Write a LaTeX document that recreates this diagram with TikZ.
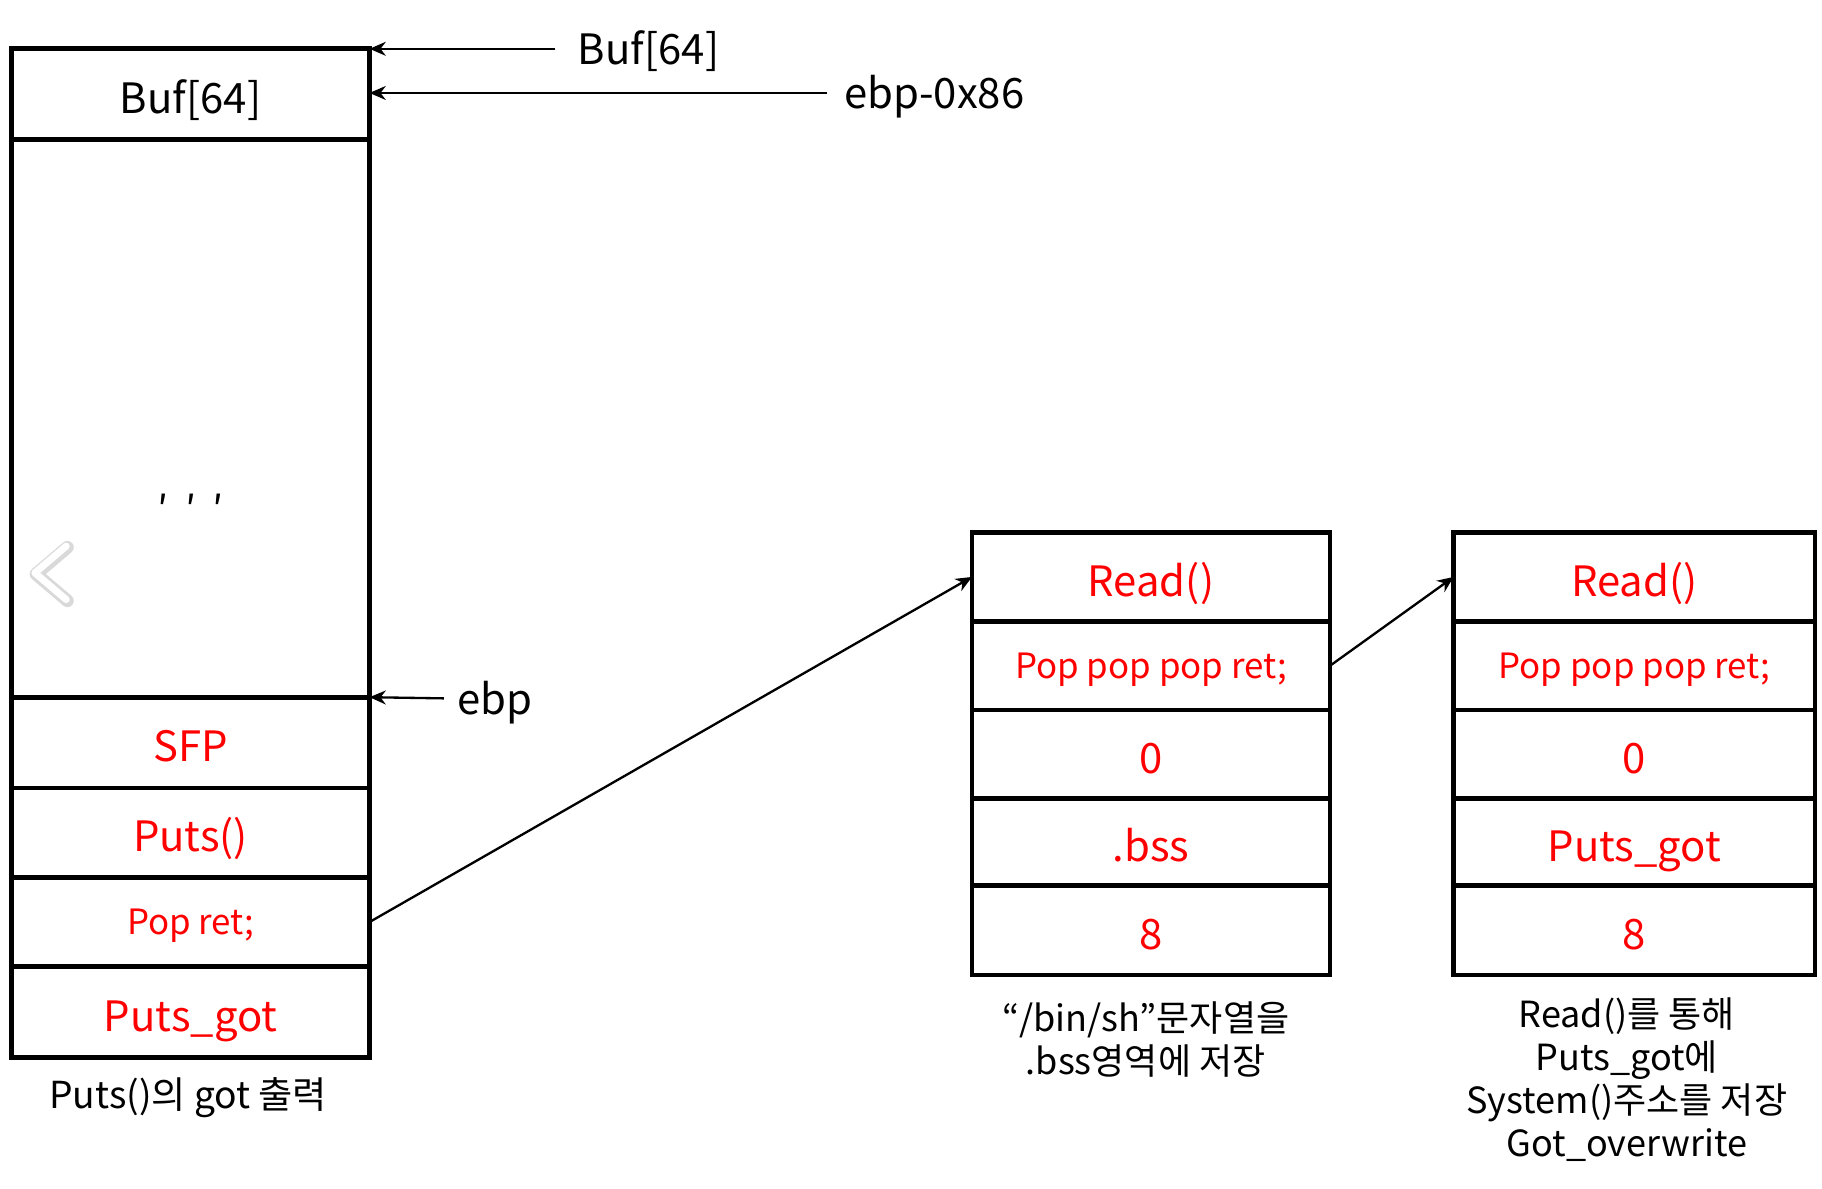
\documentclass[tikz,border=0pt]{standalone}
\usepackage{fontspec}
\setmainfont{Noto Sans CJK KR}
\usetikzlibrary{arrows.meta}
\definecolor{redtxt}{RGB}{255,0,0}
\begin{document}
\begin{tikzpicture}[x=0.5pt,y=-0.5pt,
  cell/.style={draw=black, line width=2pt, outer sep=0pt, inner sep=0pt, minimum width=#1, align=center},
  cell/.default=154pt,
  bigtxt/.style={font=\fontsize{18}{20}\selectfont, text height=16.5pt, text depth=0pt},
  smalltxt/.style={font=\fontsize{15}{18}\selectfont, text height=11pt, text depth=0pt},
  rtxt/.style={text=redtxt},
  lbl/.style={font=\fontsize{18}{20}\selectfont, inner sep=0pt, anchor=west, text height=13.5pt, text depth=0pt},
  captxt/.style={font=\fontsize{15.5}{18.5}\selectfont, align=center, inner sep=0pt},
  arr/.style={line width=1pt, -{Stealth[length=7pt,width=6pt]}}
]
\useasboundingbox (0,0) rectangle (1568,1023);
% left stack
\node[cell, bigtxt, minimum height=39pt] (L1) at (164,81) {Buf[64]};
\node[cell, minimum height=240pt] (L2) at (164,360) {};
\node[cell, bigtxt, rtxt, minimum height=39pt] (L3) at (164,639) {SFP};
\node[cell, bigtxt, rtxt, minimum height=38.5pt] (L4) at (164,716.5) {Puts()};
\node[cell, smalltxt, rtxt, minimum height=38.5pt] (L5) at (164,793.5) {Pop ret;};
\node[cell, bigtxt, rtxt, minimum height=39pt] (L6) at (164,871) {Puts\_got};
\node[font=\fontsize{17}{18}\selectfont] (dots) at (164,438) {′\hspace{7pt}′\hspace{7pt}′};
\node[captxt, font=\fontsize{16}{19}\selectfont] (capL) at (162,945) {Puts()의 got 출력};
% chevron
\draw[gray!30, line width=5.5pt, line cap=round, line join=round] (58,471) -- (31,494) -- (58,517);
\draw[white, line width=3pt, line cap=round, line join=round] (57,470) -- (30,493) -- (57,516);
% labels and arrows
\node[lbl] (tBuf) at (497,42) {Buf[64]};
\node[lbl] (tEbp86) at (726,80) {ebp-0x86};
\node[lbl] (tEbp) at (393,601) {ebp};
\draw[arr] ([xshift=-9.5pt]tBuf.west) -- (L1.north east);
\draw[arr] ([xshift=-7pt]tEbp86.west) -- (L1.east |- tEbp86.west);
\draw[arr] ([xshift=-5.5pt]tEbp.west) -- (L2.south east);
% middle stack
\node[cell, bigtxt, rtxt, minimum height=38.5pt] (M1) at (990.5,496.5) {Read()};
\node[cell, smalltxt, rtxt, minimum height=38pt] (M2) at (990.5,573) {Pop pop pop ret;};
\node[cell, bigtxt, rtxt, minimum height=38pt] (M3) at (990.5,649) {0};
\node[cell, bigtxt, rtxt, minimum height=37.5pt] (M4) at (990.5,724.5) {.bss};
\node[cell, bigtxt, rtxt, minimum height=38.5pt] (M5) at (990.5,800.5) {8};
\node[captxt] (capM) at (986,895) {“/bin/sh”문자열을\\.bss영역에 저장};
% right stack
\node[cell=155.5pt, bigtxt, rtxt, minimum height=38.5pt] (R1) at (1406.5,496.5) {Read()};
\node[cell=155.5pt, smalltxt, rtxt, minimum height=38pt] (R2) at (1406.5,573) {Pop pop pop ret;};
\node[cell=155.5pt, bigtxt, rtxt, minimum height=38pt] (R3) at (1406.5,649) {0};
\node[cell=155.5pt, bigtxt, rtxt, minimum height=37.5pt] (R4) at (1406.5,724.5) {Puts\_got};
\node[cell=155.5pt, bigtxt, rtxt, minimum height=38.5pt] (R5) at (1406.5,800.5) {8};
\node[captxt] (capR) at (1400,929) {Read()를 통해\\Puts\_got에\\System()주소를 저장\\Got\_overwrite};
% connectors
\draw[arr] (L5.east) -- (M1.west);
\draw[arr] (M2.east) -- (R1.west);
\end{tikzpicture}
\end{document}
